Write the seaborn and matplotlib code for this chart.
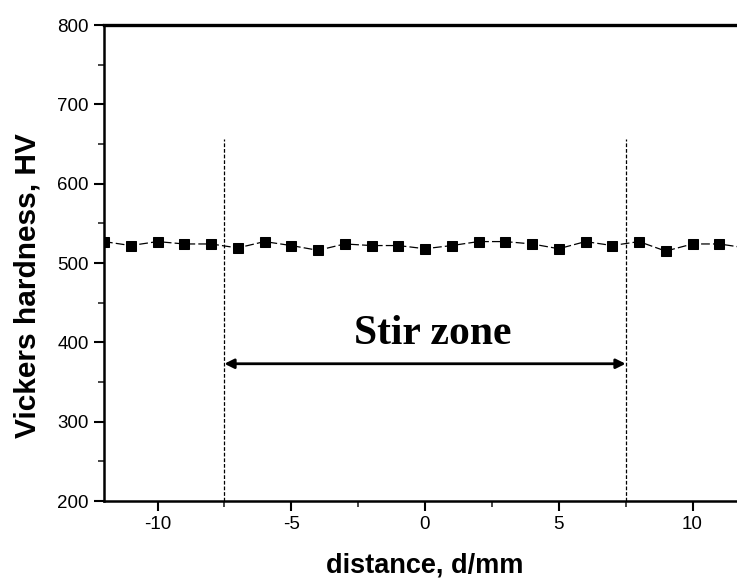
import matplotlib
matplotlib.use("Agg")
import matplotlib.pyplot as plt
import seaborn as sns
import pandas as pd
from matplotlib.ticker import MultipleLocator

# Hardness profile across the weld
distance_mm = [-12, -11, -10, -9, -8, -7, -6, -5, -4, -3, -2, -1, 0,
               1, 2, 3, 4, 5, 6, 7, 8, 9, 10, 11, 12]
hardness_hv = [527, 522, 527, 524, 524, 519, 527, 522, 516, 524, 522, 522, 518,
               522, 527, 527, 524, 518, 527, 522, 527, 515, 524, 524, 519]

zone_bounds = [-7.5, 7.5]
zone_label = "Stir zone"

sns.set_theme(style="ticks")
plt.rcParams["font.family"] = ["Liberation Sans", "DejaVu Sans"]
plt.rcParams["axes.unicode_minus"] = False
plt.rcParams["text.color"] = "black"
plt.rcParams["axes.labelcolor"] = "black"

df = pd.DataFrame({"distance": distance_mm, "hardness": hardness_hv})

fig = plt.figure(figsize=(7.37, 5.80), dpi=100)
ax = fig.add_axes([104 / 737, 79 / 580, 642 / 737, 476 / 580])

sns.lineplot(data=df, x="distance", y="hardness", ax=ax, color="black",
             marker="s", markersize=6.5, markeredgecolor="black",
             linewidth=0.9, dashes=False)
ax.lines[0].set_dashes([7, 2.5])

# Stir zone boundaries
for xb in zone_bounds:
    ax.plot([xb, xb], [200, 656], color="black", lw=0.9, ls=(0, (3, 1.5)))

ax.annotate("", xy=(zone_bounds[0], 373), xytext=(zone_bounds[1], 373),
            arrowprops=dict(arrowstyle="<|-|>", color="black", lw=2,
                            mutation_scale=14, shrinkA=0, shrinkB=0))
ax.text(0.3, 387, zone_label, ha="center", va="bottom", fontsize=30,
        fontweight="bold", family=["Liberation Serif", "DejaVu Serif"])

ax.set_xlim(-12, 12)
ax.set_ylim(200, 800)
ax.xaxis.set_major_locator(MultipleLocator(5))
ax.xaxis.set_minor_locator(MultipleLocator(2.5))
ax.yaxis.set_major_locator(MultipleLocator(100))
ax.yaxis.set_minor_locator(MultipleLocator(50))

ax.tick_params(which="major", direction="out", length=7, width=1.5,
               labelsize=13.5, colors="black", pad=4)
ax.tick_params(which="minor", direction="out", length=4, width=1.2)

for side in ["left", "bottom", "top", "right"]:
    ax.spines[side].set_visible(True)
    ax.spines[side].set_linewidth(1.8)
    ax.spines[side].set_color("black")
ax.spines["top"].set_linewidth(2.4)

ax.set_xlabel("distance, d/mm", fontsize=19.5, fontweight="bold", labelpad=14)
ax.set_ylabel("Vickers hardness, HV", fontsize=21.5, fontweight="bold")
ax.yaxis.set_label_coords(-0.097, 0.452)

fig.savefig("out.png", dpi=100)
